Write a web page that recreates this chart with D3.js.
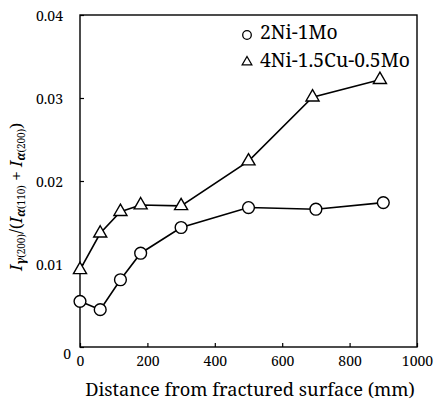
<!DOCTYPE html>
<html><head><meta charset="utf-8">
<script src="https://cdn.jsdelivr.net/npm/d3@7"></script>
<style>body{margin:0;background:#fff}svg{display:block}svg text{font-family:"Noto Serif","Liberation Serif",serif !important}</style>
</head><body>
<script>
const xTicks = [0, 200, 400, 600, 800, 1000];
const yTicks = [0, 0.01, 0.02, 0.03, 0.04];
const yTickLabels = ["0", "0.01", "0.02", "0.03", "0.04"];
const s1Name = "2Ni-1Mo";
const s1X = [0, 60, 120, 180, 300, 500, 700, 900];
const s1Y = [0.0055, 0.0045, 0.0081, 0.0113, 0.0144, 0.0168, 0.0166, 0.0174];
const s2Name = "4Ni-1.5Cu-0.5Mo";
const s2X = [0, 60, 120, 180, 300, 500, 690, 890];
const s2Y = [0.0093, 0.0137, 0.0163, 0.0171, 0.0170, 0.0224, 0.0301, 0.0322];

const W = 435, H = 404;
const m = {l: 80, r: 18, t: 15, b: 57};
const svg = d3.select("body").append("svg").attr("width", W).attr("height", H);
const x = d3.scaleLinear().domain([0, 1000]).range([m.l, W - m.r]);
const y = d3.scaleLinear().domain([0, 0.04]).range([H - m.b, m.t]);
const serif = '"Noto Serif", "Liberation Serif", serif';

function fit(sel, target) {
  const n = sel.node();
  const fs = parseFloat(getComputedStyle(n).fontSize);
  const w = n.getComputedTextLength();
  if (w > 0) sel.style("font-size", (fs * target / w).toFixed(2) + "px");
}

// frame
svg.append("rect").attr("x", x(0)).attr("y", y(0.04)).attr("width", x(1000) - x(0)).attr("height", y(0) - y(0.04))
  .attr("fill", "none").attr("stroke", "#000").attr("stroke-width", 1.4);

const gx = svg.append("g").attr("transform", `translate(0,${y(0)})`)
  .call(d3.axisBottom(x).tickValues(xTicks).tickSize(-4).tickPadding(9).tickFormat(d3.format("d")));
gx.attr("font-family", serif);
gx.select(".domain").remove();
gx.selectAll("text").style("font-family", serif).style("font-size", "14px").attr("fill", "#000");
gx.selectAll("line").attr("stroke", "#000").attr("stroke-width", 1.2);

const gy = svg.append("g").attr("transform", `translate(${x(0)},0)`)
  .call(d3.axisLeft(y).tickValues(yTicks).tickSize(-4).tickPadding(17).tickFormat((d, i) => yTickLabels[i]));
gy.attr("font-family", serif);
gy.select(".domain").remove();
gy.selectAll("text").style("font-family", serif).style("font-size", "14px").attr("fill", "#000").attr("dy", "0.4em");
gy.selectAll(".tick").filter(d => d === 0).select("text").attr("x", -9).attr("dy", "0.85em");
gy.selectAll("line").attr("stroke", "#000").attr("stroke-width", 1.2);

// lines
const line = d3.line().x(d => x(d[0])).y(d => y(d[1]));
const d1 = s1X.map((v, i) => [v, s1Y[i]]);
const d2 = s2X.map((v, i) => [v, s2Y[i]]);
svg.append("path").attr("d", line(d1)).attr("fill", "none").attr("stroke", "#000").attr("stroke-width", 1.6);
svg.append("path").attr("d", line(d2)).attr("fill", "none").attr("stroke", "#000").attr("stroke-width", 1.6);

const tri = d3.symbol().type(d3.symbolTriangle).size(74);
svg.selectAll("circle.s1").data(d1).enter().append("circle")
  .attr("cx", d => x(d[0])).attr("cy", d => y(d[1])).attr("r", 5.9)
  .attr("fill", "#fff").attr("stroke", "#000").attr("stroke-width", 1.4);
svg.selectAll("path.s2").data(d2).enter().append("path")
  .attr("d", tri).attr("transform", d => `translate(${x(d[0])},${y(d[1])})`)
  .attr("fill", "#fff").attr("stroke", "#000").attr("stroke-width", 1.4);

// legend
svg.append("circle").attr("cx", 247).attr("cy", 35).attr("r", 4.3).attr("fill", "#fff").attr("stroke", "#000").attr("stroke-width", 1.3);
svg.append("path").attr("d", d3.symbol().type(d3.symbolTriangle).size(40)).attr("transform", "translate(247,62)")
  .attr("fill", "#fff").attr("stroke", "#000").attr("stroke-width", 1.3);
const l1 = svg.append("text").attr("x", 260).attr("y", 39).style("font-size", "14.5px").text(s1Name);
const l2 = svg.append("text").attr("x", 260).attr("y", 67).style("font-size", "14.5px").text(s2Name);
fit(l2, 150);
l1.style("font-size", l2.style("font-size"));

// axis titles
const xt = svg.append("text").attr("x", 250).attr("y", 396).attr("text-anchor", "middle")
  .style("font-size", "15px").text("Distance from fractured surface (mm)");
fit(xt, 330);

const yt = svg.append("text").attr("transform", "translate(22,197) rotate(-90)").attr("text-anchor", "middle")
  .style("font-size", "17px");
const parts = [
  ["I", "it"], ["γ", "subit"], ["(200)", "sub"], ["/(", "n"], ["I", "it"], ["α", "subit"], ["(110)", "sub"],
  [" + ", "n"], ["I", "it"], ["α", "subit"], ["(200)", "sub"], [")", "n"]
];
let prevSub = false;
parts.forEach(([t, k]) => {
  const sub = k.startsWith("sub");
  const ts = yt.append("tspan").text(t);
  if (k === "it" || k === "subit") ts.style("font-style", "italic");
  if (sub) ts.style("font-size", "10px");
  if (k === "subit") ts.style("font-size", "12px").style("font-weight", "bold");
  if (sub && !prevSub) ts.attr("dy", 3);
  if (!sub && prevSub) ts.attr("dy", -3);
  prevSub = sub;
});
</script>
</body></html>
